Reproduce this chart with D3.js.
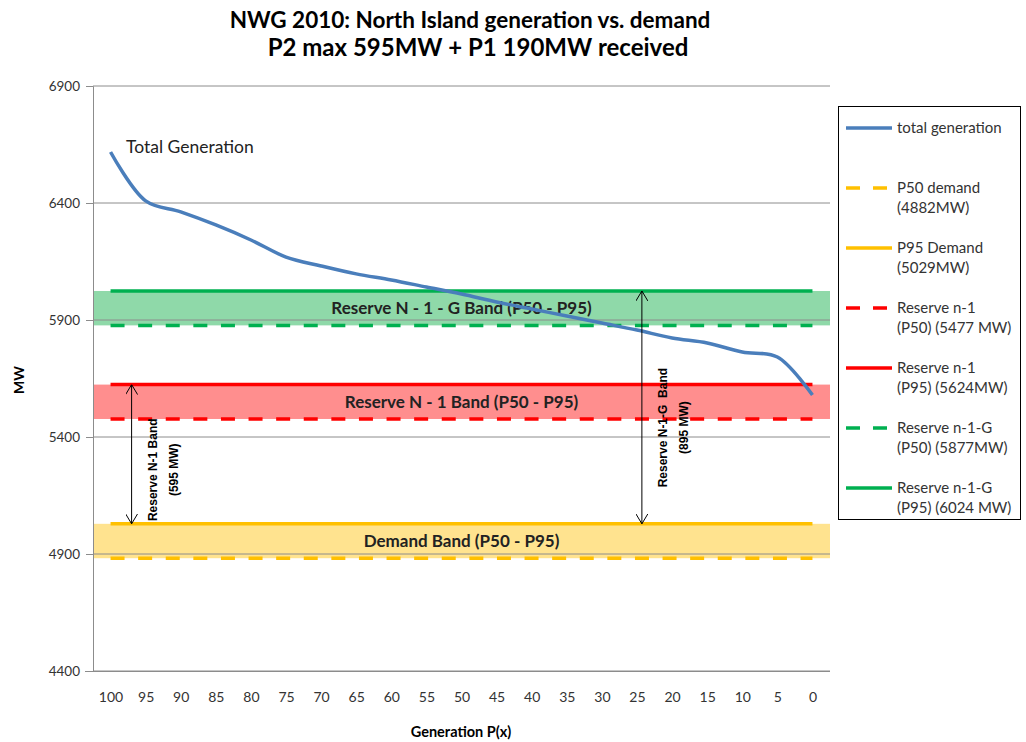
<html>
<head>
  <script src="https://d3js.org/d3.v7.min.js"></script>
  <style>
    body { margin: 0; background: #fff; }
    text { font-family: Lato, "Open Sans", sans-serif; }
    text.arrowlbl { font-family: "Liberation Sans", Arial, sans-serif; }
  </style>
</head>
<body>
<svg id="chart" width="1026" height="742"></svg>
<script>
  // generation percentile categories (x axis, reversed)
  const pLevels = [100, 95, 90, 85, 80, 75, 70, 65, 60, 55, 50, 45, 40, 35, 30, 25, 20, 15, 10, 5, 0];
  const totalGeneration = [6618, 6409, 6362, 6306, 6242, 6169, 6131, 6097, 6071, 6041, 6011,
                           5977, 5947, 5917, 5887, 5857, 5823, 5802, 5763, 5742, 5579];
  const yTicks = [4400, 4900, 5400, 5900, 6400, 6900];

  // reference levels
  const refKeys = ["p50demand", "p95demand", "n1p50", "n1p95", "n1gp50", "n1gp95"];
  const refValues = [4882, 5029, 5477, 5624, 5877, 6024];
  const refLegend = [
    ["P50 demand", "(4882MW)"],
    ["P95 Demand", "(5029MW)"],
    ["Reserve n-1", "(P50) (5477 MW)"],
    ["Reserve n-1", "(P95) (5624MW)"],
    ["Reserve n-1-G", "(P50) (5877MW)"],
    ["Reserve n-1-G", "(P95) (6024 MW)"]
  ];

  // bands between P50 and P95
  const bandLabels = ["Demand Band (P50 - P95)", "Reserve N - 1 Band (P50 - P95)", "Reserve N - 1 - G Band (P50 - P95)"];
  const bandLow = [4882, 5477, 5877];
  const bandHigh = [5029, 5624, 6024];

  // arrows
  const arrowP = [97, 24.3];
  const arrowFrom = [5624, 6024];
  const arrowTo = [5029, 5029];
  const arrowLabelAt = [5260, 5440];
  const arrowText = [["Reserve N-1 Band", "(595 MW)"], ["Reserve N-1-G  Band", "(895 MW)"]];

  const refStyle = {
    p50demand: {color: "#FFC000", dash: true},
    p95demand: {color: "#FFC000", dash: false},
    n1p50: {color: "#FF0000", dash: true},
    n1p95: {color: "#FF0000", dash: false},
    n1gp50: {color: "#00B050", dash: true},
    n1gp95: {color: "#00B050", dash: false}
  };
  const bandFill = ["#FFE38F", "#FF8E8E", "#8FD9A9"];
  const lineBlue = "#4A7EBB";

  const svg = d3.select("#chart");
  const pLeft = 93, pRight = 830, pTop = 86, pBottom = 671;

  const x = d3.scaleLinear().domain([102.5, -2.5]).range([pLeft, pRight]);
  const y = d3.scaleLinear().domain([4400, 6900]).range([pBottom, pTop]);

  // title
  svg.append("text").attr("x", 470).attr("y", 28).attr("text-anchor", "middle")
    .attr("font-size", 22.5).attr("font-weight", "bold").attr("fill", "#000")
    .text("NWG 2010: North Island generation vs. demand");
  svg.append("text").attr("x", 478).attr("y", 56).attr("text-anchor", "middle")
    .attr("font-size", 24).attr("font-weight", "bold").attr("fill", "#000")
    .text("P2 max 595MW + P1 190MW received");

  // bands
  svg.append("g").selectAll("rect").data(bandLow).join("rect")
    .attr("x", pLeft).attr("width", pRight - pLeft)
    .attr("y", (d, i) => y(bandHigh[i]))
    .attr("height", (d, i) => y(d) - y(bandHigh[i]))
    .attr("fill", (d, i) => bandFill[i]);

  // gridlines
  svg.append("g").selectAll("line").data(yTicks).join("line")
    .attr("x1", pLeft).attr("x2", pRight)
    .attr("y1", d => y(d)).attr("y2", d => y(d))
    .attr("stroke", "#8c8c8c").attr("stroke-width", 1);

  // y axis
  const yAxis = svg.append("g").attr("transform", `translate(${pLeft},0)`)
    .call(d3.axisLeft(y).tickValues(yTicks).tickSize(7).tickPadding(6).tickFormat(d3.format("d")));
  yAxis.select(".domain").attr("stroke", "#8c8c8c");
  yAxis.selectAll(".tick line").attr("stroke", "#8c8c8c");
  yAxis.selectAll("text").attr("font-size", 13.5).attr("fill", "#333")
    .attr("font-family", "Lato, sans-serif");

  // x axis
  const xAxis = svg.append("g").attr("transform", `translate(0,${pBottom})`)
    .call(d3.axisBottom(x).tickValues(pLevels).tickSize(0).tickPadding(21).tickFormat(d3.format("d")));
  xAxis.select(".domain").attr("stroke", "#8c8c8c").attr("d", `M${pLeft - 8},0.5H${pRight}`);
  xAxis.selectAll("text").attr("font-size", 14).attr("fill", "#333")
    .attr("font-family", "Lato, sans-serif");

  svg.append("text").attr("x", 461).attr("y", 737).attr("text-anchor", "middle")
    .attr("font-size", 14.5).attr("font-weight", "bold").text("Generation P(x)");
  svg.append("text").attr("transform", "translate(24,380) rotate(-90)").attr("text-anchor", "middle")
    .attr("font-size", 14).attr("font-weight", "bold").text("MW");

  // reference lines
  svg.append("g").selectAll("line").data(refValues).join("line")
    .attr("x1", x(pLevels[0])).attr("x2", x(pLevels[pLevels.length - 1]))
    .attr("y1", d => y(d)).attr("y2", d => y(d))
    .attr("stroke", (d, i) => refStyle[refKeys[i]].color)
    .attr("stroke-width", 3.5)
    .attr("stroke-dasharray", (d, i) => refStyle[refKeys[i]].dash ? "14,13.6" : null);

  // band labels
  svg.append("g").selectAll("text").data(bandLabels).join("text")
    .attr("x", x(50)).attr("y", (d, i) => y((bandLow[i] + bandHigh[i]) / 2) + 6)
    .attr("text-anchor", "middle").attr("font-size", 17).attr("font-weight", "bold")
    .attr("fill", "#222").text(d => d);

  // total generation
  const line = d3.line().x((d, i) => x(pLevels[i])).y(d => y(d)).curve(d3.curveCatmullRom);
  svg.append("path").datum(totalGeneration).attr("d", line)
    .attr("fill", "none").attr("stroke", lineBlue).attr("stroke-width", 3.5);
  svg.append("text").attr("x", x(97.8)).attr("y", y(6612)).attr("font-size", 17.5)
    .attr("fill", "#222").text("Total Generation");

  // arrows
  const defs = svg.append("defs");
  defs.append("marker").attr("id", "arr").attr("viewBox", "0 0 10 12")
    .attr("refX", 10).attr("refY", 6).attr("markerWidth", 10).attr("markerHeight", 12)
    .attr("markerUnits", "userSpaceOnUse").attr("orient", "auto-start-reverse")
    .append("path").attr("d", "M0,0L10,6L0,12").attr("fill", "none").attr("stroke", "#000").attr("stroke-width", 1);

  const arrows = svg.append("g");
  arrowP.forEach((p, i) => {
    arrows.append("line").attr("x1", x(p)).attr("x2", x(p))
      .attr("y1", y(arrowFrom[i])).attr("y2", y(arrowTo[i]))
      .attr("stroke", "#000").attr("stroke-width", 1)
      .attr("marker-start", "url(#arr)").attr("marker-end", "url(#arr)");
    arrowText[i].forEach((t, j) => {
      arrows.append("text").attr("class", "arrowlbl")
        .attr("transform", `translate(${x(p) + 25 + j * 21},${y(arrowLabelAt[i])}) rotate(-90)`)
        .attr("text-anchor", "middle").attr("font-size", 12).attr("font-weight", "bold")
        .attr("fill", "#000").attr("xml:space", "preserve").text(t);
    });
  });

  // legend
  const lg = svg.append("g");
  lg.append("rect").attr("x", 838.5).attr("y", 106.5).attr("width", 182).attr("height", 413)
    .attr("fill", "#fff").attr("stroke", "#000").attr("stroke-width", 1);
  const legendKeys = ["total"].concat(refKeys);
  const legendLines = [["total generation"]].concat(refLegend);
  legendKeys.forEach((k, i) => {
    const ly = 128 + i * 60;
    const st = k === "total" ? {color: lineBlue, dash: false} : refStyle[k];
    lg.append("line").attr("x1", 846).attr("x2", 892).attr("y1", ly).attr("y2", ly)
      .attr("stroke", st.color).attr("stroke-width", 3.5)
      .attr("stroke-dasharray", st.dash ? "14,13" : null);
    legendLines[i].forEach((t, j) => {
      lg.append("text").attr("x", 897).attr("y", ly + 5 + j * 20)
        .attr("font-size", 15).attr("fill", "#333").text(t);
    });
  });
</script>
</body>
</html>
